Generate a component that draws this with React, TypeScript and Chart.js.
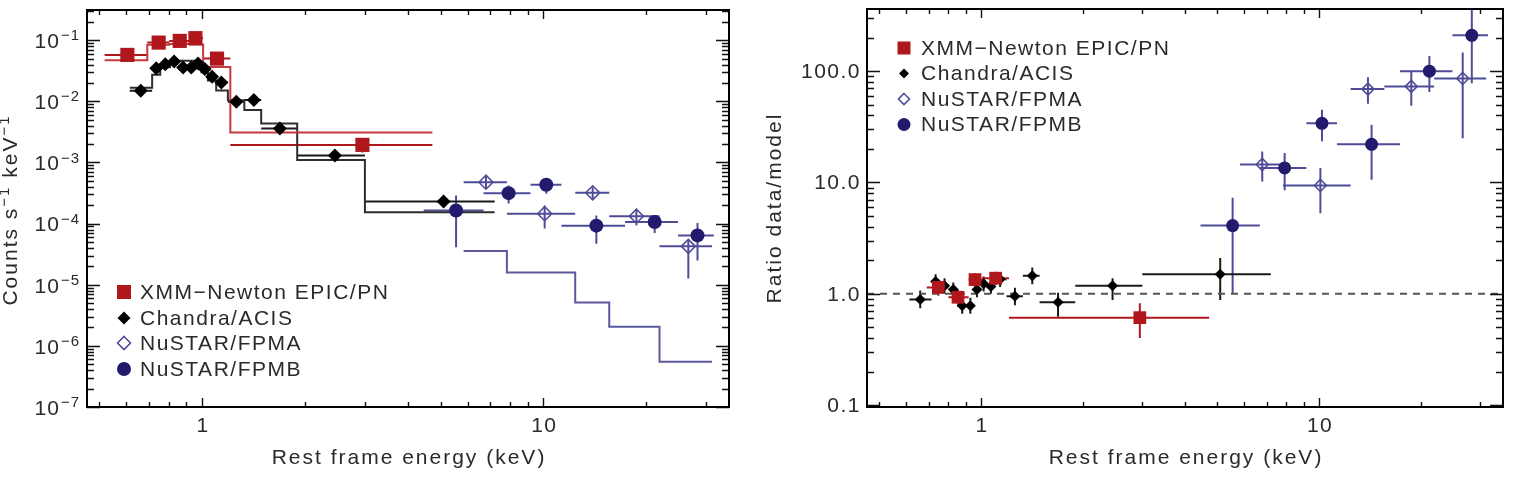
import { useEffect, useRef } from 'react';
import { Chart, registerables } from 'chart.js';

Chart.register(...registerables);

// ---------- axes ----------
const energyMin = 0.46;
const energyMax = 35;
const energyTicks = [1, 10];
const energyTickLabels = ['1', '10'];

const countsMin = 1e-7;
const countsMax = 0.312;
const countsTicks = [1e-7, 1e-6, 1e-5, 1e-4, 1e-3, 1e-2, 1e-1];
const countsTickExponents = ['−7', '−6', '−5', '−4', '−3', '−2', '−1'];

const ratioMin = 0.096;
const ratioMax = 362;
const ratioTicks = [0.1, 1, 10, 100];
const ratioTickLabels = ['0.1', '1.0', '10.0', '100.0'];

const legendLabels = ['XMM−Newton EPIC/PN', 'Chandra/ACIS', 'NuSTAR/FPMA', 'NuSTAR/FPMB'];

// ---------- XMM-Newton EPIC/PN ----------
const xmmEdges = [0.518, 0.691, 0.801, 0.919, 1.007, 1.21, 4.73];
const xmmEnergy = [0.604, 0.746, 0.86, 0.956, 1.106, 2.95];
const xmmCounts = [0.0575, 0.0914, 0.0975, 0.108, 0.05, 0.00194];
const xmmCountsLo = [0.052, 0.084, 0.089, 0.099, 0.045, 0.00145];
const xmmCountsHi = [0.063, 0.099, 0.106, 0.117, 0.055, 0.0025];
const xmmModel = [0.047, 0.084, 0.087, 0.085, 0.0366, 0.0031];

// ---------- Chandra/ACIS ----------
const acisEdges = [0.614, 0.714, 0.754, 0.806, 0.85, 0.91, 0.95, 0.996, 1.04, 1.1, 1.19, 1.33, 1.49, 1.9, 3.0, 7.2];
const acisEnergy = [0.661, 0.734, 0.78, 0.828, 0.88, 0.93, 0.973, 1.018, 1.07, 1.139, 1.26, 1.418, 1.69, 2.45, 5.1];
const acisCounts = [0.0149, 0.0349, 0.0406, 0.0448, 0.0357, 0.0357, 0.0415, 0.0337, 0.0252, 0.0203, 0.00984, 0.0105, 0.00361, 0.0013, 0.00023];
const acisCountsLo = [0.0134, 0.032, 0.0375, 0.0415, 0.033, 0.033, 0.0385, 0.031, 0.023, 0.0183, 0.0088, 0.0094, 0.0029, 0.00108, 0.000185];
const acisCountsHi = [0.0165, 0.038, 0.044, 0.0485, 0.0385, 0.0385, 0.0445, 0.0365, 0.0275, 0.0225, 0.011, 0.0117, 0.0045, 0.00157, 0.000285];
const acisModel = [0.0167, 0.0271, 0.036, 0.043, 0.046, 0.046, 0.044, 0.03, 0.022, 0.015, 0.0104, 0.00724, 0.00432, 0.0011, 0.000153];

// ---------- NuSTAR/FPMA ----------
const fpmaEdges = [5.84, 7.82, 12.4, 15.6, 21.9, 31.2];
const fpmaEnergy = [6.79, 10.09, 13.95, 18.74, 26.6];
const fpmaCounts = [4.75e-4, 1.45e-4, 3.19e-4, 1.32e-4, 4.25e-5];
const fpmaCountsLo = [3.7e-4, 8.3e-5, 2.46e-4, 9.3e-5, 1.26e-5];
const fpmaCountsHi = [6.2e-4, 1.98e-4, 3.94e-4, 1.69e-4, 5.3e-5];
const fpmaModel = [3.56e-5, 1.58e-5, 5.13e-6, 2.05e-6, 5.5e-7];

// ---------- NuSTAR/FPMB ----------
const fpmbEdges = [4.46, 6.68, 9.17, 11.3, 17.35, 24.8, 31.6];
const fpmbEnergy = [5.55, 7.91, 10.2, 14.3, 21.2, 28.3];
const fpmbCounts = [1.64e-4, 3.15e-4, 4.31e-4, 9.25e-5, 1.06e-4, 6.41e-5];
const fpmbCountsLo = [4.1e-5, 2.14e-4, 3.08e-4, 4.7e-5, 7.0e-5, 2.5e-5];
const fpmbCountsHi = [2.88e-4, 4.2e-4, 5.4e-4, 1.36e-4, 1.36e-4, 1.02e-4];

// ---------- data / model ratios ----------
const ratioXmmEdges = [0.691, 0.801, 0.919, 1.007, 1.21, 4.73];
const ratioXmmEnergy = [0.748, 0.855, 0.96, 1.105, 2.95];
const ratioXmm = [1.14, 0.93, 1.34, 1.38, 0.61];
const ratioXmmLo = [0.96, 0.8, 1.16, 1.2, 0.4];
const ratioXmmHi = [1.35, 1.08, 1.53, 1.58, 0.82];

const ratioAcis = [0.89, 1.29, 1.18, 1.09, 0.78, 0.78, 1.09, 1.23, 1.16, 1.35, 0.95, 1.45, 0.84, 1.18, 1.5];
const ratioAcisLo = [0.74, 1.1, 1.0, 0.94, 0.66, 0.66, 0.93, 1.05, 1.0, 1.15, 0.79, 1.22, 0.62, 0.88, 0.88];
const ratioAcisHi = [1.07, 1.5, 1.38, 1.26, 0.92, 0.92, 1.27, 1.43, 1.35, 1.57, 1.13, 1.72, 1.02, 1.38, 2.09];

const ratioFpma = [14.5, 9.4, 69, 73, 86];
const ratioFpmaLo = [10.2, 5.3, 51, 49, 25];
const ratioFpmaHi = [19, 13.5, 88, 100, 147];

const ratioFpmb = [4.1, 13.5, 34, 22, 100, 210];
const ratioFpmbLo = [1.0, 8.5, 23.5, 10.6, 65, 78];
const ratioFpmbHi = [7.3, 18.4, 45, 33, 137, 420];

// ---------- styling ----------
const FONT = '"Liberation Sans", Arial, "DejaVu Sans", sans-serif';
const TEXT = '#2a2a2a';
const RED = '#b0171d';
const RED_MODEL = '#c8393e';
const BLACK = '#000000';
const GRAY_MODEL = '#2e2e2e';
const NAVY = '#211a6d';
const SLATE = '#4f4c97';
const SLATE_MODEL = '#5b599c';

function setFont(ctx: CanvasRenderingContext2D, size: number, spacing = 1.5) {
  ctx.font = `${size}px ${FONT}`;
  (ctx as any).letterSpacing = `${spacing}px`;
}

function points(x: number[], y: number[], edges: number[], ylo: number[], yhi: number[]) {
  return x.map((v, i) => ({ x: v, y: y[i], xlo: edges[i], xhi: edges[i + 1], ylo: ylo[i], yhi: yhi[i] }));
}

function steps(edges: number[], model: number[]) {
  return edges.map((e, i) => ({ x: e, y: model[Math.min(i, model.length - 1)] }));
}

function logTicks(min: number, max: number) {
  const out: { v: number; major: boolean }[] = [];
  for (let d = Math.floor(Math.log10(min)) - 1; d <= Math.ceil(Math.log10(max)); d++) {
    for (let k = 1; k <= 9; k++) {
      const v = k * Math.pow(10, d);
      if (v >= min * 0.9999 && v <= max * 1.0001) out.push({ v, major: k === 1 });
    }
  }
  return out;
}

// error bars drawn under the markers
const errorBarPlugin = {
  id: 'errorBars',
  beforeDatasetsDraw(chart: any) {
    const { ctx, chartArea: a } = chart;
    const xs = chart.scales.x;
    const ys = chart.scales.y;
    ctx.save();
    ctx.beginPath();
    ctx.rect(a.left, a.top, a.right - a.left, a.bottom - a.top);
    ctx.clip();
    ctx.lineCap = 'butt';
    for (let di = chart.data.datasets.length - 1; di >= 0; di--) {
      const ds: any = chart.data.datasets[di];
      if (!ds.errorColor) continue;
      ctx.strokeStyle = ds.errorColor;
      ctx.lineWidth = 2;
      ctx.beginPath();
      for (const p of ds.data) {
        const px = xs.getPixelForValue(p.x);
        const py = ys.getPixelForValue(p.y);
        ctx.moveTo(xs.getPixelForValue(p.xlo), py);
        ctx.lineTo(xs.getPixelForValue(p.xhi), py);
        ctx.moveTo(px, ys.getPixelForValue(p.ylo));
        ctx.lineTo(px, ys.getPixelForValue(p.yhi));
      }
      ctx.stroke();
    }
    ctx.restore();
  },
};

type MarkerSizes = { square: number; diamond: number; open: number; circle: number };

function drawLegend(ctx: CanvasRenderingContext2D, mx: number, tx: number, rows: number[], s: MarkerSizes) {
  ctx.save();
  // square
  ctx.fillStyle = RED;
  ctx.fillRect(mx - s.square / 2, rows[0] - s.square / 2, s.square, s.square);
  // filled diamond
  ctx.fillStyle = BLACK;
  ctx.beginPath();
  ctx.moveTo(mx, rows[1] - s.diamond);
  ctx.lineTo(mx + s.diamond, rows[1]);
  ctx.lineTo(mx, rows[1] + s.diamond);
  ctx.lineTo(mx - s.diamond, rows[1]);
  ctx.closePath();
  ctx.fill();
  // open diamond
  ctx.strokeStyle = SLATE;
  ctx.lineWidth = 1.6;
  ctx.beginPath();
  ctx.moveTo(mx, rows[2] - s.open);
  ctx.lineTo(mx + s.open, rows[2]);
  ctx.lineTo(mx, rows[2] + s.open);
  ctx.lineTo(mx - s.open, rows[2]);
  ctx.closePath();
  ctx.stroke();
  // circle
  ctx.fillStyle = NAVY;
  ctx.beginPath();
  ctx.arc(mx, rows[3], s.circle, 0, Math.PI * 2);
  ctx.fill();

  ctx.fillStyle = TEXT;
  setFont(ctx, 21);
  ctx.textAlign = 'left';
  ctx.textBaseline = 'middle';
  legendLabels.forEach((l, i) => ctx.fillText(l, tx, rows[i] + 1));
  ctx.restore();
}

function drawFrame(chart: any) {
  const { ctx, chartArea: a } = chart;
  const xs = chart.scales.x;
  const ys = chart.scales.y;
  ctx.save();
  ctx.strokeStyle = '#111';
  ctx.lineWidth = 1.4;
  ctx.beginPath();
  for (const t of logTicks(xs.min, xs.max)) {
    const px = Math.round(xs.getPixelForValue(t.v)) + 0.5;
    const len = t.major ? 9 : 5;
    ctx.moveTo(px, a.bottom);
    ctx.lineTo(px, a.bottom - len);
    ctx.moveTo(px, a.top);
    ctx.lineTo(px, a.top + len);
  }
  for (const t of logTicks(ys.min, ys.max)) {
    const py = Math.round(ys.getPixelForValue(t.v)) + 0.5;
    const len = t.major ? 13 : 7;
    ctx.moveTo(a.left, py);
    ctx.lineTo(a.left + len, py);
    ctx.moveTo(a.right, py);
    ctx.lineTo(a.right - len, py);
  }
  ctx.stroke();
  ctx.lineWidth = 2;
  ctx.strokeStyle = '#000';
  ctx.strokeRect(a.left, a.top, a.right - a.left, a.bottom - a.top);

  // energy axis labels and title
  ctx.fillStyle = TEXT;
  setFont(ctx, 21);
  ctx.textAlign = 'center';
  ctx.textBaseline = 'middle';
  energyTicks.forEach((v, i) => ctx.fillText(energyTickLabels[i], xs.getPixelForValue(v) + 1, 426));
  setFont(ctx, 21, 2);
  ctx.fillText('Rest frame energy (keV)', (a.left + a.right) / 2 + 1, 458);
  ctx.restore();
}

function drawRotated(ctx: CanvasRenderingContext2D, parts: { t: string; size: number; dy: number }[], cx: number, cy: number) {
  ctx.save();
  ctx.translate(cx, cy);
  ctx.rotate(-Math.PI / 2);
  ctx.fillStyle = TEXT;
  ctx.textAlign = 'left';
  ctx.textBaseline = 'middle';
  const widths = parts.map((p) => {
    setFont(ctx, p.size, 2);
    return ctx.measureText(p.t).width;
  });
  let x = -widths.reduce((s, w) => s + w, 0) / 2;
  parts.forEach((p, i) => {
    setFont(ctx, p.size, 2);
    ctx.fillText(p.t, x, p.dy);
    x += widths[i];
  });
  ctx.restore();
}

const spectrumDecor = {
  id: 'spectrumDecor',
  afterDraw(chart: any) {
    const { ctx, chartArea: a } = chart;
    const ys = chart.scales.y;
    drawFrame(chart);
    ctx.save();
    ctx.fillStyle = TEXT;
    ctx.textBaseline = 'middle';
    countsTicks.forEach((v, i) => {
      const py = ys.getPixelForValue(v);
      setFont(ctx, 15, 1);
      const ew = ctx.measureText(countsTickExponents[i]).width;
      const right = a.left - 7;
      ctx.textAlign = 'left';
      ctx.fillText(countsTickExponents[i], right - ew, py - 4);
      setFont(ctx, 21, 1);
      ctx.textAlign = 'right';
      ctx.fillText('10', right - ew - 1, py + 2);
    });
    ctx.restore();
    drawRotated(ctx, [
      { t: 'Counts s', size: 21, dy: 0 },
      { t: '−1', size: 15, dy: -6 },
      { t: ' keV', size: 21, dy: 0 },
      { t: '−1', size: 15, dy: -6 },
    ], 11, 210);
    drawLegend(ctx, 124, 140, [292, 318, 343, 369], { square: 14, diamond: 6.5, open: 6.5, circle: 7 });
  },
};

// the ratio canvas starts at page x = 756, so its decorations use canvas-local x
const ratioDecor = {
  id: 'ratioDecor',
  afterDraw(chart: any) {
    const { ctx, chartArea: a } = chart;
    const ys = chart.scales.y;
    drawFrame(chart);
    ctx.save();
    ctx.fillStyle = TEXT;
    setFont(ctx, 21, 1.5);
    ctx.textAlign = 'right';
    ctx.textBaseline = 'middle';
    ratioTicks.forEach((v, i) => ctx.fillText(ratioTickLabels[i], a.left - 6, ys.getPixelForValue(v) + 1));
    ctx.restore();
    drawRotated(ctx, [{ t: 'Ratio data/model', size: 21, dy: 0 }], 19, (a.top + a.bottom) / 2);
    drawLegend(ctx, 148, 165, [48, 73.5, 99, 124.5], { square: 13, diamond: 5, open: 5.5, circle: 6.5 });
  },
};

function markerSet(data: any[], style: string, radius: number, fill: string, border: string, bw: number, errorColor: string) {
  return {
    data,
    showLine: false,
    pointStyle: style,
    pointRadius: radius,
    pointBackgroundColor: fill,
    pointBorderColor: border,
    pointBorderWidth: bw,
    errorColor,
  };
}

function modelSet(data: any[], color: string) {
  return {
    data,
    showLine: true,
    stepped: 'before',
    pointRadius: 0,
    borderColor: color,
    borderWidth: 2,
    fill: false,
  };
}

function baseOptions(yMin: number, yMax: number, padding: any) {
  return {
    responsive: false,
    animation: false,
    devicePixelRatio: 1,
    events: [],
    layout: { padding },
    plugins: { legend: { display: false }, tooltip: { enabled: false } },
    scales: {
      x: { type: 'logarithmic', min: energyMin, max: energyMax, display: false },
      y: { type: 'logarithmic', min: yMin, max: yMax, display: false },
    },
  };
}

export default function App() {
  const leftRef = useRef<HTMLCanvasElement>(null);
  const rightRef = useRef<HTMLCanvasElement>(null);

  useEffect(() => {
    const spectrum = new Chart(leftRef.current as HTMLCanvasElement, {
      type: 'scatter',
      data: {
        datasets: [
          markerSet(points(xmmEnergy, xmmCounts, xmmEdges, xmmCountsLo, xmmCountsHi), 'rect', 10, RED, RED, 0, RED),
          markerSet(points(acisEnergy, acisCounts, acisEdges, acisCountsLo, acisCountsHi), 'rectRot', 7, BLACK, BLACK, 0, '#1a1a1a'),
          markerSet(points(fpmbEnergy, fpmbCounts, fpmbEdges, fpmbCountsLo, fpmbCountsHi), 'circle', 7, NAVY, NAVY, 0, SLATE),
          markerSet(points(fpmaEnergy, fpmaCounts, fpmaEdges, fpmaCountsLo, fpmaCountsHi), 'rectRot', 7, 'rgba(0,0,0,0)', SLATE, 1.6, SLATE),
          modelSet(steps(xmmEdges, xmmModel), RED_MODEL),
          modelSet(steps(acisEdges, acisModel), GRAY_MODEL),
          modelSet(steps(fpmaEdges, fpmaModel), SLATE_MODEL),
        ],
      } as any,
      options: baseOptions(countsMin, countsMax, { left: 87, top: 9, right: 27, bottom: 70 }) as any,
      plugins: [errorBarPlugin, spectrumDecor],
    });

    const ratio = new Chart(rightRef.current as HTMLCanvasElement, {
      type: 'scatter',
      data: {
        datasets: [
          markerSet(points(ratioXmmEnergy, ratioXmm, ratioXmmEdges, ratioXmmLo, ratioXmmHi), 'rect', 9, RED, RED, 0, RED),
          markerSet(points(acisEnergy, ratioAcis, acisEdges, ratioAcisLo, ratioAcisHi), 'rectRot', 5.5, BLACK, BLACK, 0, '#1a1a1a'),
          markerSet(points(fpmbEnergy, ratioFpmb, fpmbEdges, ratioFpmbLo, ratioFpmbHi), 'circle', 6.5, NAVY, NAVY, 0, SLATE),
          markerSet(points(fpmaEnergy, ratioFpma, fpmaEdges, ratioFpmaLo, ratioFpmaHi), 'rectRot', 6, 'rgba(0,0,0,0)', SLATE, 1.6, SLATE),
          {
            data: [{ x: energyMin, y: 1 }, { x: energyMax, y: 1 }],
            showLine: true,
            pointRadius: 0,
            borderColor: '#555555',
            borderWidth: 2.2,
            borderDash: [7, 6],
            fill: false,
          },
        ],
      } as any,
      options: baseOptions(ratioMin, ratioMax, { left: 111, top: 9, right: 10, bottom: 70 }) as any,
      plugins: [errorBarPlugin, ratioDecor],
    });

    return () => {
      spectrum.destroy();
      ratio.destroy();
    };
  }, []);

  return (
    <div style={{ position: 'absolute', left: 0, top: 0, width: 1513, height: 477, background: '#ffffff' }}>
      <canvas ref={leftRef} width={756} height={477} style={{ position: 'absolute', left: 0, top: 0, width: 756, height: 477 }} />
      <canvas ref={rightRef} width={757} height={477} style={{ position: 'absolute', left: 756, top: 0, width: 757, height: 477 }} />
    </div>
  );
}
